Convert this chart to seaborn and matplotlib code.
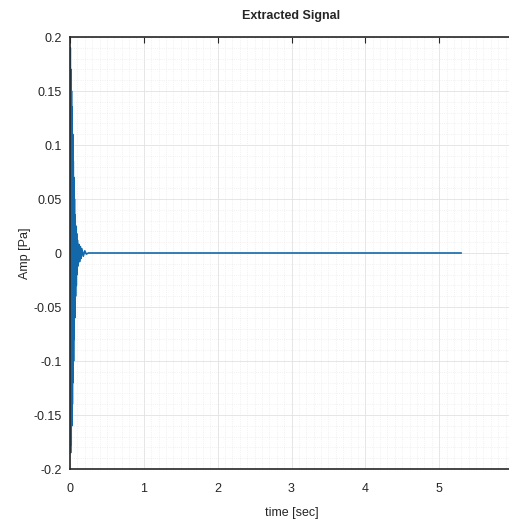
import matplotlib
matplotlib.use("Agg")
import matplotlib.pyplot as plt
import seaborn as sns
import pandas as pd
from matplotlib.ticker import MultipleLocator, FuncFormatter

# Data: decaying burst near t=0, then flat to ~5.3 s
time_sec = [0.000, 0.004, 0.008, 0.012, 0.016, 0.020, 0.024, 0.028, 0.032, 0.036,
            0.040, 0.044, 0.048, 0.052, 0.056, 0.060, 0.065, 0.070, 0.075, 0.080,
            0.085, 0.090, 0.095, 0.100, 0.110, 0.120, 0.130, 0.140, 0.150, 0.160,
            0.180, 0.200, 0.220, 0.250, 5.300]
amp_pa = [0.000, 0.190, -0.185, 0.170, -0.178, 0.150, -0.160, 0.135, -0.140, 0.110,
          -0.120, 0.085, -0.100, 0.070, -0.080, 0.050, -0.060, 0.035, -0.040, 0.025,
          -0.030, 0.018, -0.020, 0.012, -0.012, 0.008, -0.008, 0.006, -0.005, 0.004,
          -0.003, 0.002, -0.001, 0.000, 0.000]

x_ticks = [0, 1, 2, 3, 4, 5, 6]
y_ticks = [-0.2, -0.15, -0.1, -0.05, 0, 0.05, 0.1, 0.15, 0.2]

sns.set_style("white")
plt.rcParams['font.family'] = ['Liberation Sans', 'DejaVu Sans']
plt.rcParams['axes.unicode_minus'] = False

df = pd.DataFrame({"time": time_sec, "amp": amp_pa})

fig = plt.figure(figsize=(5.09, 5.23), dpi=100)
ax = fig.add_axes([70/509, 1 - 469/523, (513 - 70)/509, (469 - 37)/523])

sns.lineplot(data=df, x="time", y="amp", ax=ax, color="#1368AA",
             linewidth=1.2, sort=False, estimator=None)

ax.set_xlim(0, 6)
ax.set_ylim(-0.2, 0.2)
ax.set_xticks(x_ticks)
ax.set_yticks(y_ticks)
ax.xaxis.set_minor_locator(MultipleLocator(0.1))
ax.yaxis.set_minor_locator(MultipleLocator(0.01))
fmt = FuncFormatter(lambda v, p: "%g" % round(v, 4))
ax.xaxis.set_major_formatter(fmt)
ax.yaxis.set_major_formatter(fmt)

ax.grid(True, which="major", color="#e2e2e2", linewidth=0.6, linestyle="-")
ax.grid(True, which="minor", color="#e8e8e8", linewidth=0.5, linestyle=":")
ax.set_axisbelow(True)

for s in ax.spines.values():
    s.set_color("#262626")
    s.set_linewidth(1.2)
ax.spines["right"].set_visible(False)

ax.tick_params(axis="both", which="major", direction="in", length=4,
               top=True, right=False, labelsize=9, colors="#262626", pad=6)
ax.tick_params(axis="x", which="major", pad=10)
ax.tick_params(axis="both", which="minor", length=0)

ax.set_title("Extracted Signal", fontsize=9, fontweight="bold", pad=13)
ax.set_xlabel("time [sec]", fontsize=9, labelpad=9)
ax.set_ylabel("Amp [Pa]", fontsize=9, labelpad=2)

fig.savefig("out.png", dpi=100)
